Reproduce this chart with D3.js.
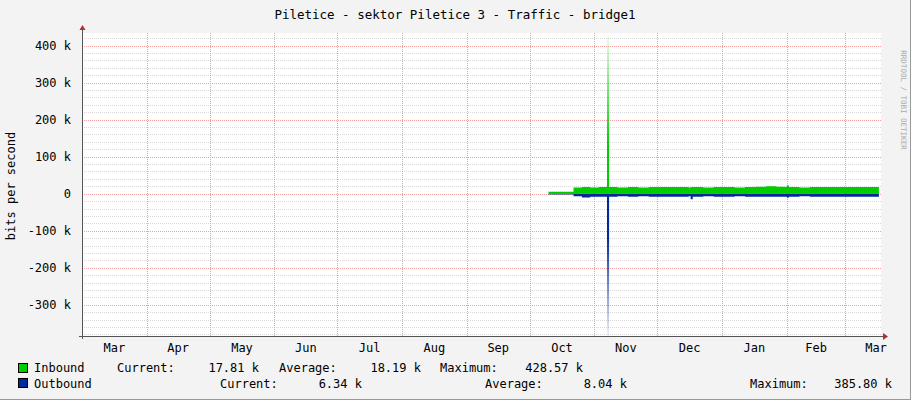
<!DOCTYPE html>
<html><head><meta charset="utf-8">
<script src="https://cdn.jsdelivr.net/npm/d3@7"></script>
<style>body{margin:0;background:#f3f3f3}svg{display:block}text{font-family:"DejaVu Sans Mono",monospace;fill:#000}</style>
</head><body><svg id="c" width="911" height="400"></svg>
<script>
const title = "Piletice - sektor Piletice 3 - Traffic - bridge1";
const dates = ["2022-10-10","2022-10-14","2022-10-18","2022-10-22","2022-10-26","2022-10-30","2022-11-03","2022-11-06","2022-11-07","2022-11-08","2022-11-12","2022-11-17","2022-11-22","2022-11-27","2022-12-02","2022-12-07","2022-12-12","2022-12-16","2022-12-17","2022-12-18","2022-12-23","2022-12-28","2023-01-02","2023-01-07","2023-01-12","2023-01-17","2023-01-22","2023-01-27","2023-01-31","2023-02-01","2023-02-02","2023-02-07","2023-02-12","2023-02-17","2023-02-22","2023-02-27","2023-03-04","2023-03-09","2023-03-17"];
const inbound = [5,5,5,17,18,17,18,18,428.57,18,17,18,17,18,18,18,18,17,18,18,17,18,18,17,18,19,20,19,18,22,18,17,18,18,18,18,18,18,17.81];
const outbound = [2,2,2,7,10,8,8,8,385.8,8,7,8,7,8,8,8,8,7,15,8,7,8,8,7,8,8,8,8,8,10,8,7,8,8,8,8,8,8,6.34];
const monthTicks = ["Mar","Apr","May","Jun","Jul","Aug","Sep","Oct","Nov","Dec","Jan","Feb","Mar"];
const yTicks = [-300,-200,-100,0,100,200,300,400];

const svg = d3.select("#c");
const L=82,R=881,T=33,B=336;
const x = d3.scaleTime().domain([new Date(2022,2,1),new Date(2023,2,18)]).range([L,R]);
const y = d3.scaleLinear().domain([-384.3,434]).range([B,T]);
svg.append("rect").attr("x",0).attr("y",0).attr("width",911).attr("height",400).attr("fill","#f3f3f3");
svg.append("line").attr("x1",910.5).attr("x2",910.5).attr("y1",0).attr("y2",400).attr("stroke","#999");
svg.append("line").attr("x1",0).attr("x2",911).attr("y1",399.5).attr("y2",399.5).attr("stroke","#999");
svg.append("rect").attr("x",L).attr("y",T).attr("width",R-L).attr("height",B-T).attr("fill","#fff");
const defs=svg.append("defs");
const g1=defs.append("linearGradient").attr("id","gi").attr("gradientUnits","userSpaceOnUse").attr("x1",0).attr("x2",0).attr("y1",y(430)).attr("y2",y(0));
g1.append("stop").attr("offset",0).attr("stop-color","#00cc00").attr("stop-opacity",0.05);
g1.append("stop").attr("offset",0.7).attr("stop-color","#00cc00").attr("stop-opacity",1);
const g2=defs.append("linearGradient").attr("id","go").attr("gradientUnits","userSpaceOnUse").attr("x1",0).attr("x2",0).attr("y1",y(0)).attr("y2",y(-386));
g2.append("stop").attr("offset",0.3).attr("stop-color","#002a97").attr("stop-opacity",1);
g2.append("stop").attr("offset",1).attr("stop-color","#002a97").attr("stop-opacity",0.05);
for(let v=-380;v<=430;v+=20){ if(v%100===0) continue;
  svg.append("line").attr("x1",L).attr("x2",R).attr("y1",Math.round(y(v))+.5).attr("y2",Math.round(y(v))+.5).attr("stroke","#d8d8d8").attr("stroke-dasharray","1,1");}
yTicks.forEach(v=>svg.append("line").attr("x1",L).attr("x2",R).attr("y1",Math.round(y(v))+.5).attr("y2",Math.round(y(v))+.5).attr("stroke","#f4a0a0").attr("stroke-dasharray","1,1"));
const months = d3.timeMonth.range(new Date(2022,2,1),new Date(2023,2,2));
months.forEach(m=>svg.append("line").attr("x1",Math.round(x(m))+.5).attr("x2",Math.round(x(m))+.5).attr("y1",T).attr("y2",B).attr("stroke","#f4a0a0").attr("stroke-dasharray","1,1"));
const pts = dates.map((d,i)=>({d:new Date(d),i:inbound[i],o:outbound[i]}));
const st = d3.curveStepAfter;
svg.append("path").datum(pts).attr("fill","url(#gi)").attr("d",d3.area().curve(st).x(p=>x(p.d)).y0(y(0)).y1(p=>y(p.i)));
svg.append("path").datum(pts).attr("fill","url(#go)").attr("d",d3.area().curve(st).x(p=>x(p.d)).y0(y(0)).y1(p=>y(-p.o)));
svg.append("line").attr("x1",L-3).attr("x2",R+2).attr("y1",B+.5).attr("y2",B+.5).attr("stroke","#555");
svg.append("line").attr("x1",L+.5).attr("x2",L+.5).attr("y1",B+3).attr("y2",T-4).attr("stroke","#555");
svg.append("path").attr("d",`M${R+2},${B-3}L${R+7},${B+.5}L${R+2},${B+4}Z`).attr("fill","#a33");
svg.append("path").attr("d",`M${L-2.5},${T-3}L${L+.5},${T-8}L${L+3.5},${T-3}Z`).attr("fill","#a33");
yTicks.forEach(v=>svg.append("text").attr("x",71).attr("y",y(v)+4).attr("text-anchor","end").attr("font-size",12).text(v===0?"0":v+" k"));
monthTicks.forEach((t,i)=>{const a=x(new Date(2022,2+i,1)),b=x(new Date(2022,3+i,1));
  svg.append("text").attr("x",i===12?876:(a+b)/2).attr("y",352).attr("text-anchor","middle").attr("font-size",12).text(t);});
svg.append("text").attr("x",455).attr("y",19).attr("text-anchor","middle").attr("font-size",12.5).text(title);
svg.append("text").attr("transform","translate(15,186) rotate(-90)").attr("text-anchor","middle").attr("font-size",12).text("bits per second");
svg.append("text").attr("transform","translate(901,100) rotate(90)").attr("text-anchor","middle").attr("font-size",7.5).style("fill","#aaa").text("RRDTOOL / TOBI OETIKER");
svg.append("rect").attr("x",18.5).attr("y",363.5).attr("width",9).attr("height",9).attr("fill","#00cc00").attr("stroke","#000");
svg.append("rect").attr("x",18.5).attr("y",378.5).attr("width",9).attr("height",9).attr("fill","#002a97").attr("stroke","#000");
const lt=(s,xx,yy,a)=>svg.append("text").attr("x",xx).attr("y",yy).attr("font-size",12).attr("text-anchor",a||"start").text(s);
lt("Inbound",34,372);lt("Current:",117,372);lt("17.81 k",259,372,"end");lt("Average:",279,372);lt("18.19 k",421,372,"end");lt("Maximum:",440,372);lt("428.57 k",583,372,"end");
lt("Outbound",34,388);lt("Current:",220,388);lt("6.34 k",362,388,"end");lt("Average:",485,388);lt("8.04 k",627,388,"end");lt("Maximum:",750,388);lt("385.80 k",892,388,"end");
</script></body></html>
